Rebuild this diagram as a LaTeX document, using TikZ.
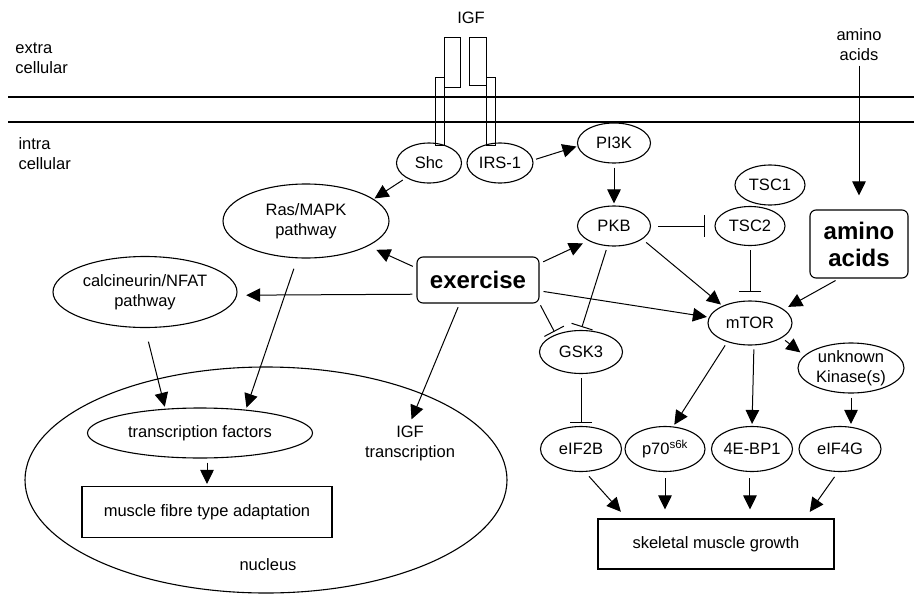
\documentclass[tikz,border=0pt]{standalone}
\usepackage{fontspec}
\setmainfont{Liberation Sans}
\usetikzlibrary{arrows.meta,shapes.geometric}

\begin{document}
\begin{tikzpicture}[x=1pt,y=-1pt,line width=1pt,>={Triangle[length=14pt,width=13.5pt]},font=\fontsize{16.5}{20}\selectfont]
  \tikzstyle{oval}=[draw,ellipse,inner sep=0pt,align=center,line width=1.1pt]
  \tikzstyle{box}=[draw,rectangle,inner sep=0pt,align=center,line width=1.1pt]
  \tikzstyle{bigbox}=[box,rounded corners=6pt,font=\fontsize{24}{27}\selectfont\bfseries]
  \tikzstyle{lbl}=[align=left,inner sep=0pt]
  \tikzstyle{act}=[->,shorten <=4pt,shorten >=2pt]
  \tikzstyle{inh}=[-{Bar[width=22pt]},shorten <=4pt,shorten >=4pt]
  \useasboundingbox (0,0) rectangle (914,595);
  % membrane and receptor
  \draw[line width=1.8pt] (8,97) -- (914,97);
  \draw[line width=1.8pt] (8,122) -- (914,122);
  \draw (435,77) rectangle (444,145);
  \draw (444,37) rectangle (460,87);
  \draw (486,77) rectangle (495,145);
  \draw (469,37) rectangle (486,85);
  \node[lbl,anchor=west] (extra) at (15,58) {extra\\cellular};
  \node[lbl,anchor=west] (intra) at (18,154) {intra\\cellular};
  \node (igf) at (471,18) {IGF};
  \node[align=center,inner sep=0pt] (aalbl) at (859,45) {amino\\acids};
  % signalling nodes
  \node[oval,minimum width=65pt,minimum height=40pt] (shc) at (429,163) {Shc};
  \node[oval,minimum width=66pt,minimum height=40pt] (irs) at (500,163) {IRS-1};
  \node[oval,minimum width=73pt,minimum height=40pt] (pi3k) at (614,143) {PI3K};
  \node[oval,minimum width=73pt,minimum height=40pt] (pkb) at (614,226) {PKB};
  \node[oval,minimum width=70pt,minimum height=40pt] (tsc1) at (770,185) {TSC1};
  \node[oval,minimum width=70pt,minimum height=39pt,fill=white] (tsc2) at (750,226) {TSC2};
  \node[bigbox,minimum width=98pt,minimum height=68pt] (aabox) at (859,244) {amino\\acids};
  \node[oval,minimum width=166pt,minimum height=74pt] (ras) at (306,221) {Ras/MAPK\\pathway};
  \node[oval,minimum width=184pt,minimum height=71pt] (calc) at (145,292) {calcineurin/NFAT\\pathway};
  \node[bigbox,minimum width=122pt,minimum height=46pt] (exercise) at (478,280) {exercise};
  \node[oval,minimum width=83pt,minimum height=43pt] (gsk) at (581,352) {GSK3};
  \node[oval,minimum width=84pt,minimum height=44pt] (mtor) at (750,323) {mTOR};
  \node[oval,minimum width=106pt,minimum height=48pt] (unk) at (851,368) {unknown\\Kinase(s)};
  \node[oval,minimum width=81pt,minimum height=45pt] (eif2b) at (581,449) {eIF2B};
  \node[oval,minimum width=80pt,minimum height=45pt] (p70) at (665,449) {p70\textsuperscript{s6k}};
  \node[oval,minimum width=81pt,minimum height=45pt] (bp1) at (752,449) {4E-BP1};
  \node[oval,minimum width=82pt,minimum height=45pt] (eif4g) at (840,449) {eIF4G};
  \node[box,minimum width=236pt,minimum height=50pt] (growth) at (716,544) {skeletal muscle growth};
  % nucleus
  \node[oval,minimum width=482pt,minimum height=226pt] (nucleus) at (266,480) {};
  \node[oval,minimum width=225pt,minimum height=50pt] (tf) at (200,433) {transcription factors};
  \node[box,minimum width=250pt,minimum height=51pt] (fibre) at (207,512) {muscle fibre type adaptation};
  \node (nuclbl) at (268,565) {nucleus};
  \node[align=center,inner sep=2pt] (igft) at (410,443) {IGF\\transcription};
  % connectors
  \draw[act,shorten <=3pt,shorten >=1pt] (irs.5) -- (pi3k.185);
  \draw[act,shorten >=1pt] (shc.213) -- (ras.18);
  \draw[act] (pi3k.south) -- (pkb.north);
  \draw[inh,shorten <=7pt,shorten >=9pt] (pkb.east) -- (tsc2.west);
  \draw[inh,shorten >=8pt] (tsc2.south) -- (mtor.north);
  \draw[act,shorten <=5pt] (pkb.335) -- (mtor.148);
  \draw[act,shorten >=5pt] (aabox.240) -- (mtor.22);
  \draw[act,shorten >=14pt] (aalbl.south) -- (aabox.north);
  \draw[act] (exercise.350) -- (mtor.172);
  \draw[act,shorten >=6pt] (exercise.15) -- (pkb.210);
  \draw[inh,shorten <=2pt,shorten >=3pt] (exercise.south east) -- (gsk.145);
  \draw[inh,shorten >=3pt] (pkb.252) -- (gsk.north);
  \draw[inh,shorten >=3pt] (gsk.south) -- (eif2b.north);
  \draw[act,shorten >=9pt] (exercise.169) -- (ras.338);
  \draw[act,shorten >=9pt] (exercise.193) -- (calc.358);
  \draw[act,shorten >=4pt] (exercise.232) -- (igft.north);
  \draw[act,shorten <=11pt] (ras.257) -- (tf.27);
  \draw[act,shorten <=14pt] (calc.south) -- (tf.145);
  \draw[act] (tf.south -| fibre.north) -- (fibre.north);
  \draw[act,shorten >=5pt] (mtor.335) -- (unk.165);
  \draw[act] (mtor.220) -- (p70.70);
  \draw[act] (mtor.280) -- (bp1.north);
  \draw[act] (unk.south) -- (unk.south |- eif4g.north);
  \draw[act,shorten <=6pt,shorten >=9pt] (eif2b.280) -- (growth.164);
  \draw[act,shorten <=6pt,shorten >=9pt] (p70.south) -- (p70.south |- growth.north);
  \draw[act,shorten <=6pt,shorten >=9pt] (bp1.265) -- (bp1.265 |- growth.north);
  \draw[act,shorten <=6pt,shorten >=8pt] (eif4g.265) -- (growth.16);
\end{tikzpicture}
\end{document}
